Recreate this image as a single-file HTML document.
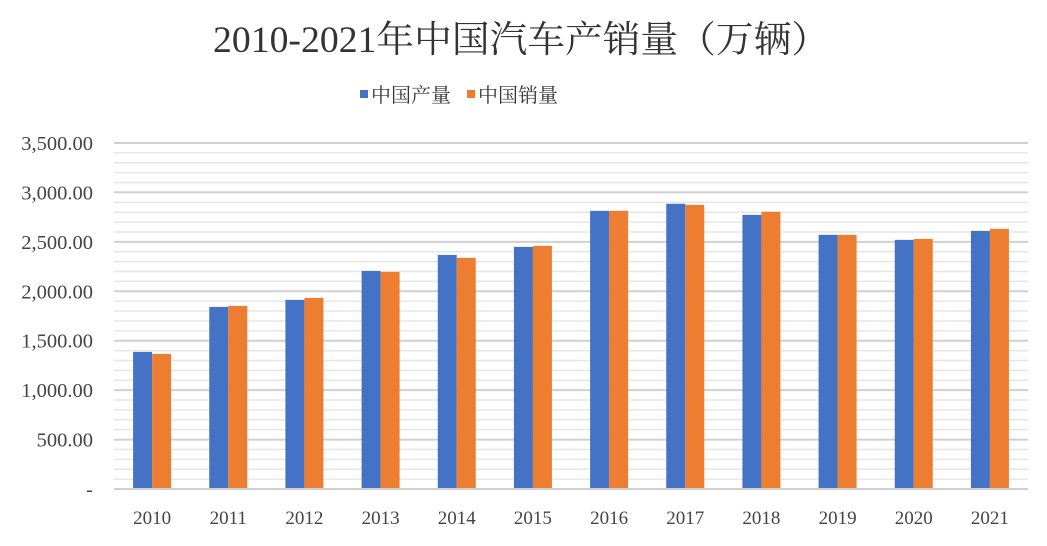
<!DOCTYPE html>
<html><head><meta charset="utf-8"><style>
body{margin:0;background:#fff;}
svg text{font-family:"Liberation Serif","Noto Serif CJK SC",serif;}
</style></head><body>
<svg id="chart" width="1047" height="541" viewBox="0 0 1047 541" xmlns="http://www.w3.org/2000/svg">
<rect width="1047" height="541" fill="#fff"/>
<text x="521" y="52" font-size="37" fill="#333" text-anchor="middle" textLength="616" lengthAdjust="spacingAndGlyphs">2010-2021年中国汽车产销量（万辆）</text>
<g>
<rect x="360" y="90" width="8" height="8" fill="#4472c4"/>
<text x="371" y="102" font-size="20" fill="#333">中国产量</text>
<rect x="467" y="90" width="8" height="8" fill="#ed7d31"/>
<text x="478" y="102" font-size="20" fill="#333">中国销量</text>
</g>
<g id="grid"></g><g id="bars"></g><g id="axes"></g>
</svg>
<script>
const categories=['2010','2011','2012','2013','2014','2015','2016','2017','2018','2019','2020','2021'];
const production=[1387,1842,1913,2206,2368,2449,2814,2885,2773,2571,2520,2611];
const sales=[1366,1852,1933,2196,2338,2459,2814,2874,2804,2571,2530,2632];
const yTicks=[0,500,1000,1500,2000,2500,3000,3500];
const yTickLabels=['-','500.00','1,000.00','1,500.00','2,000.00','2,500.00','3,000.00','3,500.00'];
const NS='http://www.w3.org/2000/svg';
const L=114,R=1028,B=489,T=143,yMax=3500;
const y=v=>B-(v/yMax)*(B-T);
const band=(R-L)/categories.length;
const x=i=>L+band*(i+0.5);
const grid=document.getElementById('grid'),bars=document.getElementById('bars'),axes=document.getElementById('axes');
function mk(tag,attrs,parent){const e=document.createElementNS(NS,tag);for(const k in attrs)e.setAttribute(k,attrs[k]);parent.appendChild(e);return e;}
for(let v=100;v<=yMax;v+=100){
  const major=v%500===0;
  const g=mk('line',{x1:L,x2:R,y1:y(v),y2:y(v),stroke:major?'#d0d0d0':'#e6e6e6','stroke-width':major?2:1.5},grid);
  
  
}
yTicks.forEach((v,i)=>{
  const t=mk('text',{x:93,y:y(v)+7,'font-size':20.5,fill:'#444','text-anchor':'end'},axes);
  t.textContent=yTickLabels[i];
  
  
});
const ax=mk('line',{x1:L,x2:R,y1:B,y2:B,stroke:'#d0d0d0','stroke-width':2},axes);


const bw=19;
categories.forEach((c,i)=>{
  const cx=x(i);
  const b1=mk('rect',{x:cx-bw,y:y(production[i]),width:bw,height:B-y(production[i]),fill:'#4472c4'},bars);
  
  
  const b2=mk('rect',{x:cx,y:y(sales[i]),width:bw,height:B-y(sales[i]),fill:'#ed7d31'},bars);
  
  
  const t=mk('text',{x:cx,y:524,'font-size':19,fill:'#444','text-anchor':'middle'},axes);
  t.textContent=c;
  
  
});
</script>
</body></html>
